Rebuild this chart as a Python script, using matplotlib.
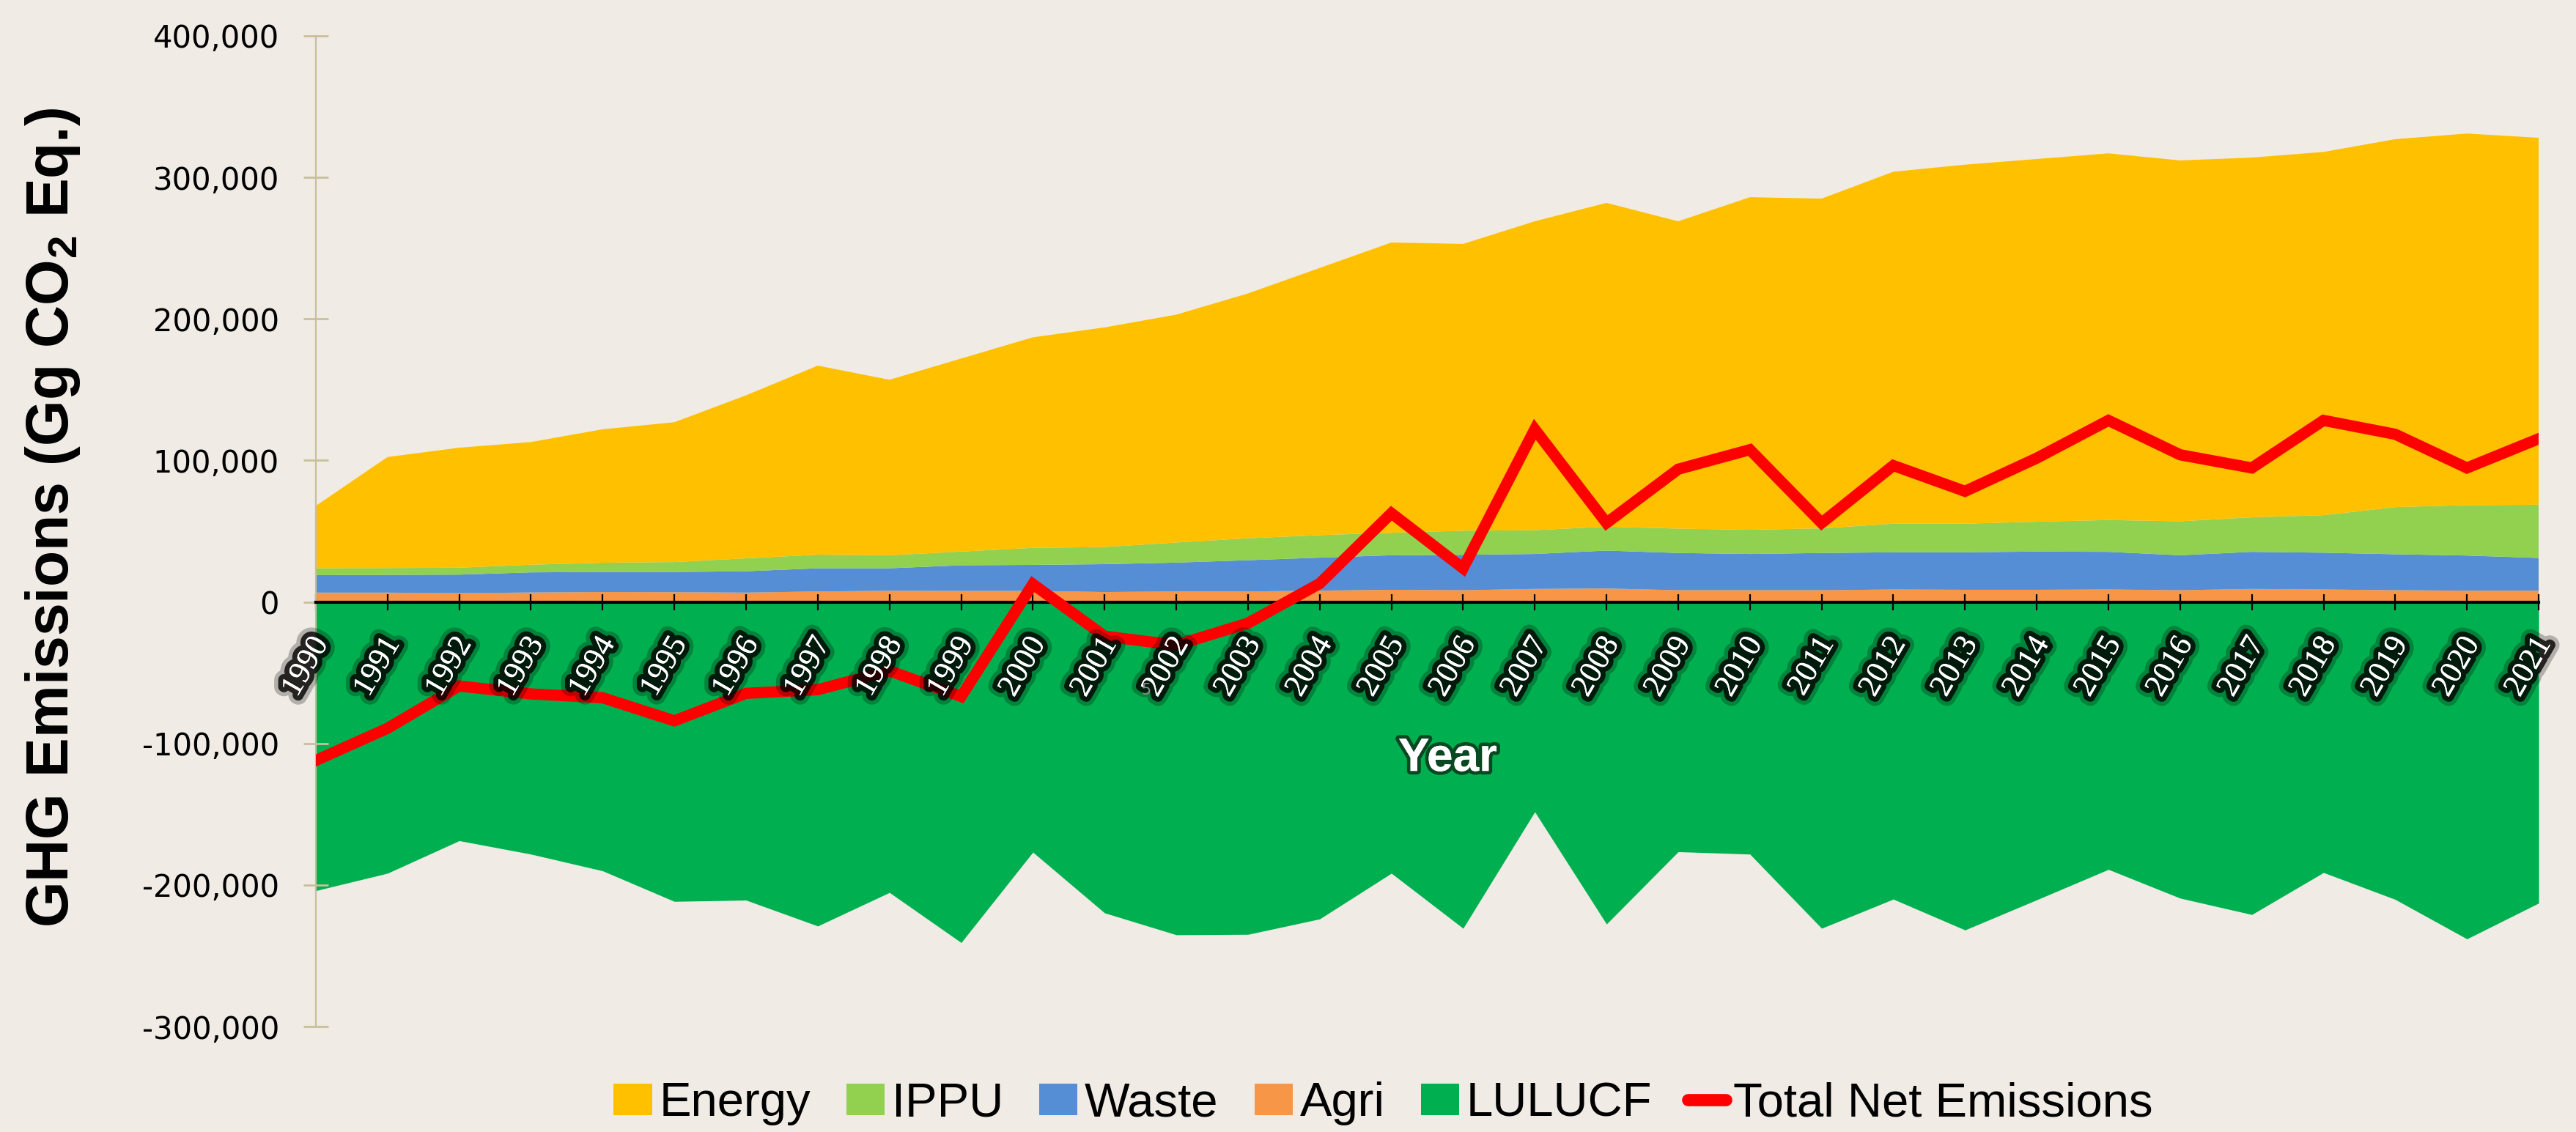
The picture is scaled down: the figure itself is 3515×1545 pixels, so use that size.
import matplotlib
matplotlib.use("Agg")
import matplotlib.pyplot as plt
import matplotlib.patheffects as pe
from matplotlib.lines import Line2D
from matplotlib.patches import Patch

# values in Gg CO2 Eq. (thousands)
years = list(range(1990, 2022))
energy = [44.1, 78.4, 84.8, 86.7, 94.3, 98.8, 115.2, 133.6, 124.0, 136.4,
          148.8, 155.2, 161.0, 173.0, 188.8, 205.1, 202.7, 218.3, 228.8, 217.2,
          235.0, 233.0, 248.7, 253.7, 256.3, 259.1, 255.0, 254.2, 256.7, 260.0,
          262.6, 259.3]
ippu = [4.8, 4.9, 4.9, 5.4, 6.5, 7.0, 9.1, 9.6, 9.2, 9.7,
        12.0, 12.1, 14.2, 15.5, 15.9, 15.9, 17.0, 16.8, 16.9, 17.2,
        17.1, 17.4, 20.2, 20.2, 21.1, 22.5, 24.0, 24.4, 26.5, 33.3,
        35.6, 37.6]
waste = [12.4, 12.5, 13.1, 14.2, 14.2, 14.3, 15.1, 16.4, 15.9, 18.1,
         18.4, 19.7, 20.4, 22.1, 23.3, 24.4, 25.0, 24.7, 26.8, 26.3,
         25.6, 26.3, 26.3, 26.5, 27.0, 26.6, 24.7, 26.2, 26.0, 25.4,
         24.8, 23.1]
agri = [6.6, 6.6, 6.2, 6.7, 7.0, 6.9, 6.6, 7.4, 7.9, 7.8,
        7.8, 7.0, 7.4, 7.4, 8.0, 8.6, 8.3, 9.2, 9.5, 8.3,
        8.3, 8.3, 8.8, 8.6, 8.6, 8.8, 8.3, 9.2, 8.8, 8.3,
        8.0, 8.0]
lulucf = [-204.0, -191.7, -168.7, -178.2, -190.0, -211.6, -210.7, -229.0, -205.3, -240.7,
          -176.8, -219.7, -235.2, -234.9, -224.0, -191.7, -230.6, -148.3, -227.6, -176.5,
          -178.2, -230.6, -210.0, -231.8, -210.5, -189.0, -209.3, -220.9, -191.2, -210.2,
          -238.1, -212.8]
net = [-112.0, -89.3, -59.4, -65.0, -67.7, -84.0, -64.6, -62.0, -48.7, -66.8,
       12.6, -24.2, -30.5, -15.0, 13.0, 62.7, 23.8, 122.0, 55.8, 93.8,
       107.6, 55.8, 96.4, 78.2, 101.6, 128.3, 104.0, 94.7, 128.3, 118.5,
       94.7, 115.3]

series_names = ["Energy", "IPPU", "Waste", "Agri", "LULUCF"]
colors = {"Energy": "#FFC000", "IPPU": "#92D050", "Waste": "#558ED5",
          "Agri": "#F79646", "LULUCF": "#00B050"}
yticks = [-300000, -200000, -100000, 0, 100000, 200000, 300000, 400000]

bg = "#F0EBE5"
axis_col = "#C8C09C"
sans = ["Liberation Sans", "DejaVu Sans"]

plt.rcParams["mathtext.fontset"] = "custom"
plt.rcParams["mathtext.rm"] = "Liberation Sans:bold"
plt.rcParams["mathtext.default"] = "rm"

k = 1000
fig = plt.figure(figsize=(35.15, 15.45), dpi=100, facecolor=bg)
ax = fig.add_axes([0.1226, 0.0932, 0.9855 - 0.1226, 0.9683 - 0.0932])
ax.set_facecolor(bg)

ax.stackplot(years, [a * k for a in agri], [w * k for w in waste],
             [i * k for i in ippu], [e * k for e in energy],
             colors=[colors["Agri"], colors["Waste"], colors["IPPU"], colors["Energy"]],
             linewidth=0, zorder=1)
ax.fill_between(years, [l * k for l in lulucf], 0, color=colors["LULUCF"],
                linewidth=0, zorder=1)
ax.plot(years, [n * k for n in net], color="#FF0000", lw=11,
        solid_joinstyle="miter", zorder=3)

ax.set_xlim(1990, 2021)
ax.set_ylim(-300000, 400000)

# axes styling
for s in ["top", "right"]:
    ax.spines[s].set_visible(False)
ax.spines["bottom"].set_position(("data", 0))
ax.spines["bottom"].set_color("black")
ax.spines["bottom"].set_linewidth(3)
ax.spines["bottom"].set_zorder(2.5)
ax.spines["left"].set_color(axis_col)
ax.spines["left"].set_linewidth(1.6)

ax.set_yticks(yticks)
ax.set_yticklabels([f"{v:,}" for v in yticks], fontsize=30)
ax.tick_params(axis="y", direction="inout", length=24, width=2,
               color=axis_col, pad=24)

ax.set_xticks(years)
ax.set_xticklabels([])
ax.tick_params(axis="x", direction="inout", length=16, width=1.6, color="black")

glow = [pe.withStroke(linewidth=18, foreground="black", alpha=0.25),
        pe.withStroke(linewidth=10, foreground="black", alpha=0.8),
        pe.Normal()]
for yr in years:
    ax.annotate(str(yr), xy=(yr, 0), xytext=(6, -37), textcoords="offset points",
                rotation=60, rotation_mode="anchor", ha="right", va="center",
                fontsize=31, family=["Liberation Serif", "DejaVu Serif"],
                color="white", path_effects=glow, zorder=5, annotation_clip=False)

fig.text(0.562, 0.330, "Year", fontsize=46, fontweight="bold", family=sans,
         color="white", ha="center", va="center", zorder=6,
         path_effects=[pe.withStroke(linewidth=7, foreground="#0B3D1C", alpha=0.9),
                       pe.Normal()])
fig.text(0.445, 0.39, "5", fontsize=15, color="#8A8A8A", ha="center", va="center")

fig.text(0.0205, 0.543, r"GHG Emissions (Gg CO$_2$ Eq.)", rotation=90, fontsize=58,
         fontweight="bold", family=sans, ha="center", va="center")

handles = [Patch(facecolor=colors[n], edgecolor="none") for n in series_names]
handles.append(Line2D([0], [0], color="#FF0000", lw=12, solid_capstyle="round"))
labels = series_names + ["Total Net Emissions"]
fig.legend(handles, labels, loc="center", bbox_to_anchor=(0.537, 0.025), ncol=6,
           frameon=False, prop={"family": sans, "size": 47},
           handlelength=0.8, handleheight=0.65, handletextpad=0.15,
           columnspacing=0.75, borderaxespad=0)

fig.savefig("out.png", dpi=100, facecolor=bg)
